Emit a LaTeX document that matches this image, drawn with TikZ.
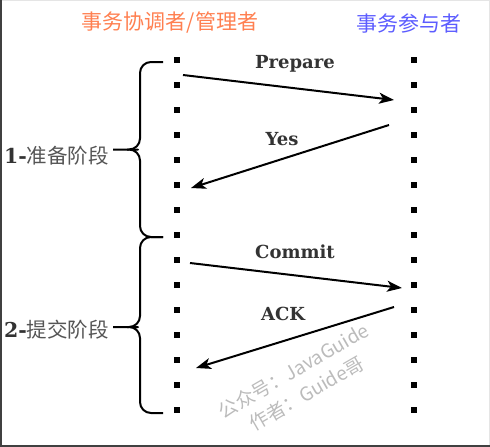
\documentclass[tikz,border=0pt]{standalone}
\usepackage{fontspec}
\setmainfont{DejaVu Serif}
\newfontfamily\cjk{Noto Sans CJK SC}
\usetikzlibrary{arrows.meta}
\definecolor{orangehd}{HTML}{FF7F50}
\definecolor{bluehd}{HTML}{5C5CFF}
\definecolor{txt}{HTML}{333333}
\definecolor{stagec}{HTML}{555555}
\definecolor{wmc}{HTML}{BBBBBB}
\begin{document}
\begin{tikzpicture}[x=1pt,y=-1pt,
  dot/.style={fill=black, inner sep=0pt, minimum size=5.5pt, shape=rectangle},
  msg/.style={-{Stealth[length=15pt,width=11pt,inset=4pt]}, line width=2pt},
  msglabel/.style={font=\bfseries\fontsize{18}{21}\selectfont, text=txt},
  head/.style={font=\cjk\fontsize{21}{25}\selectfont},
  stage/.style={font=\fontsize{20.5}{24}\selectfont, text=stagec, anchor=west, inner sep=0pt},
  bracepath/.style={line width=2pt, rounded corners=11pt, line join=round},
  framedark/.style={draw=black!75, line width=2pt},
  framelight/.style={draw=black!10, line width=1.2pt}]
\useasboundingbox (0,0) rectangle (490,447);
% frame
\draw[framelight] (0,0.6) -- (490,0.6);
\draw[framelight] (489.4,0) -- (489.4,447);
\draw[framedark] (1,0) -- (1,447);
\draw[framedark] (0,446) -- (490,446);
% headers
\node[head, text=orangehd] (hc) at (170,23) {事务协调者/管理者};
\node[head, text=bluehd] (hp) at (409,23) {事务参与者};
% lifelines
\foreach \k in {0,...,14} {
  \node[dot] (L\k) at (177,60+25*\k) {};
  \node[dot] (R\k) at (414,60+25*\k) {};
}
% message end points
\coordinate (pa) at (183,75);  \coordinate (pb) at (394,100);
\coordinate (ya) at (389,125); \coordinate (yb) at (191,188);
\coordinate (ca) at (190,263); \coordinate (cb) at (402,288);
\coordinate (aa) at (394,307); \coordinate (ab) at (196,368);
\draw[msg] (pa) -- (pb);
\draw[msg] (ya) -- (yb);
\draw[msg] (ca) -- (cb);
\draw[msg] (aa) -- (ab);
\node[msglabel] (lp) at (295,64) {Prepare};
\node[msglabel] (ly) at (282,139) {Yes};
\node[msglabel] (lc) at (295,252) {Commit};
\node[msglabel] (lk) at (283,314) {ACK};
% braces
\coordinate (b1t) at (163,62);  \coordinate (b1m) at (140,149.5); \coordinate (b1b) at (163,237);
\coordinate (b2t) at (163,237); \coordinate (b2m) at (140,327);   \coordinate (b2b) at (163,413);
\draw[bracepath] (b1t) -- (b1m |- b1t) -- (b1m) -- ++(-13,0);
\draw[bracepath] (b1b) -- (b1m |- b1b) -- (b1m) -- ++(-13,0) -- ++(-14,0);
\draw[bracepath] (b2t) -- (b2m |- b2t) -- (b2m) -- ++(-13,0);
\draw[bracepath] (b2b) -- (b2m |- b2b) -- (b2m) -- ++(-13,0) -- ++(-14,0);
% stage labels
\node[stage] (s1) at (4,156) {{\bfseries\color{txt}1-}{\cjk 准备阶段}};
\node[stage] (s2) at (4,330) {{\bfseries\color{txt}2-}{\cjk 提交阶段}};
% watermark
\node[rotate=30, text=wmc, font=\cjk\fontsize{19}{26}\selectfont, align=center] (wm) at (300,382) {公众号：JavaGuide\\作者：Guide哥};
\end{tikzpicture}
\end{document}
